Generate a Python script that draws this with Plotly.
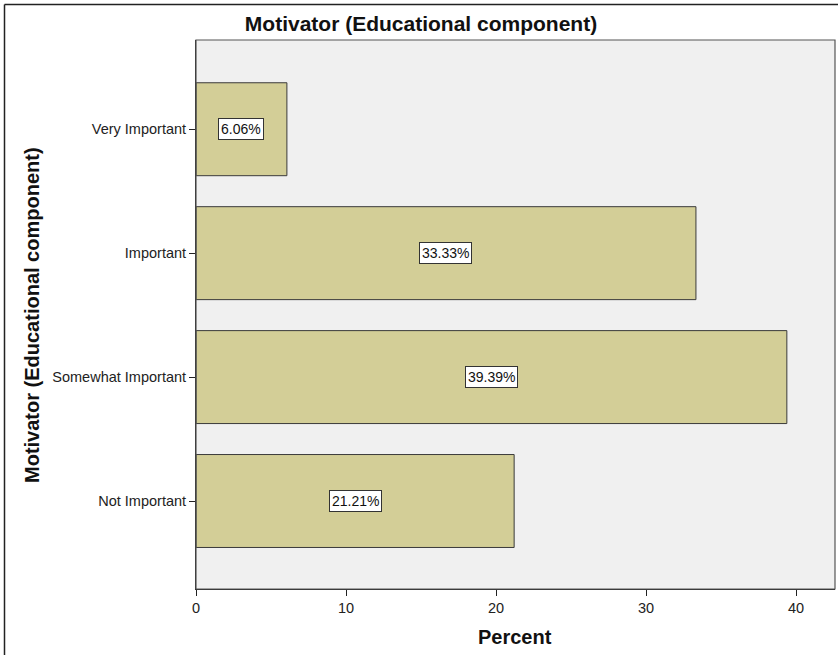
import plotly.graph_objects as go

# Response categories (bottom to top) and their share of respondents
categories = ["Not Important", "Somewhat Important", "Important", "Very Important"]
percents = [21.21, 39.39, 33.33, 6.06]
value_labels = ["21.21%", "39.39%", "33.33%", "6.06%"]
x_ticks = [0, 10, 20, 30, 40]

W, H = 838, 655
L, R, T, B = 196, 3, 40, 66
plot_w = W - L - R
plot_h = H - T - B

FONT = "Liberation Sans, Arial, sans-serif"

fig = go.Figure()
fig.add_trace(go.Bar(
    y=categories,
    x=percents,
    orientation="h",
    marker=dict(color="#D3CE97", line=dict(color="#3a3a3a", width=1)),
    hoverinfo="x+y",
))

# Value labels in white boxes at the middle of each bar
for cat, val, lab in zip(categories, percents, value_labels):
    fig.add_annotation(
        x=val / 2, y=cat, xref="x", yref="y",
        text=lab, showarrow=False,
        font=dict(family=FONT, size=14, color="#111"),
        bgcolor="white", bordercolor="#333", borderwidth=1, borderpad=2,
    )

def px_x(p):
    return (p - L) / plot_w

def px_y(p):
    return (H - B - p) / plot_h

# Axis titles
fig.add_annotation(
    xref="paper", yref="paper", x=px_x(515), y=px_y(637),
    text="<b>Percent</b>", showarrow=False, xanchor="center", yanchor="middle",
    font=dict(family=FONT, size=20, color="#111"),
)
fig.add_annotation(
    xref="paper", yref="paper", x=px_x(32), y=px_y(315),
    text="<b>Motivator (Educational component)</b>", showarrow=False,
    textangle=-90, xanchor="center", yanchor="middle",
    font=dict(family=FONT, size=20, color="#111"),
)

# Outer frame (left and top edges)
fig.add_shape(type="line", xref="paper", yref="paper",
              x0=px_x(4.5), x1=px_x(W + 5), y0=px_y(4.5), y1=px_y(4.5),
              line=dict(color="#222", width=1.5))
fig.add_shape(type="line", xref="paper", yref="paper",
              x0=px_x(4.5), x1=px_x(4.5), y0=px_y(4.5), y1=px_y(H + 5),
              line=dict(color="#222", width=1.5))
# Plot area frame
fig.add_shape(type="rect", xref="paper", yref="paper",
              x0=0, x1=1, y0=0, y1=1, line=dict(color="#555", width=1.2),
              layer="above")

fig.update_layout(
    width=W, height=H,
    margin=dict(l=L, r=R, t=T, b=B, pad=0),
    paper_bgcolor="white",
    plot_bgcolor="#F0F0F0",
    bargap=0.25,
    showlegend=False,
    font=dict(family=FONT, size=14, color="#222"),
    title=dict(
        text="<b>Motivator (Educational component)</b>",
        x=421 / W, xanchor="center", y=1 - 24 / H, yanchor="middle",
        font=dict(family=FONT, size=21, color="#111"),
    ),
    xaxis=dict(
        range=[0, 42.6], tickvals=x_ticks, ticks="outside", ticklen=6,
        tickcolor="#222", showgrid=False, zeroline=False,
        showline=True, linecolor="#222", linewidth=1,
        tickfont=dict(family=FONT, size=14.5, color="#222"),
    ),
    yaxis=dict(
        categoryorder="array", categoryarray=categories,
        range=[-0.71, 3.72], ticks="outside", ticklen=6,
        tickcolor="#222", showgrid=False, zeroline=False,
        showline=True, linecolor="#222", linewidth=1,
        tickfont=dict(family=FONT, size=14.5, color="#222"),
    ),
)

fig.write_html("out.html")
